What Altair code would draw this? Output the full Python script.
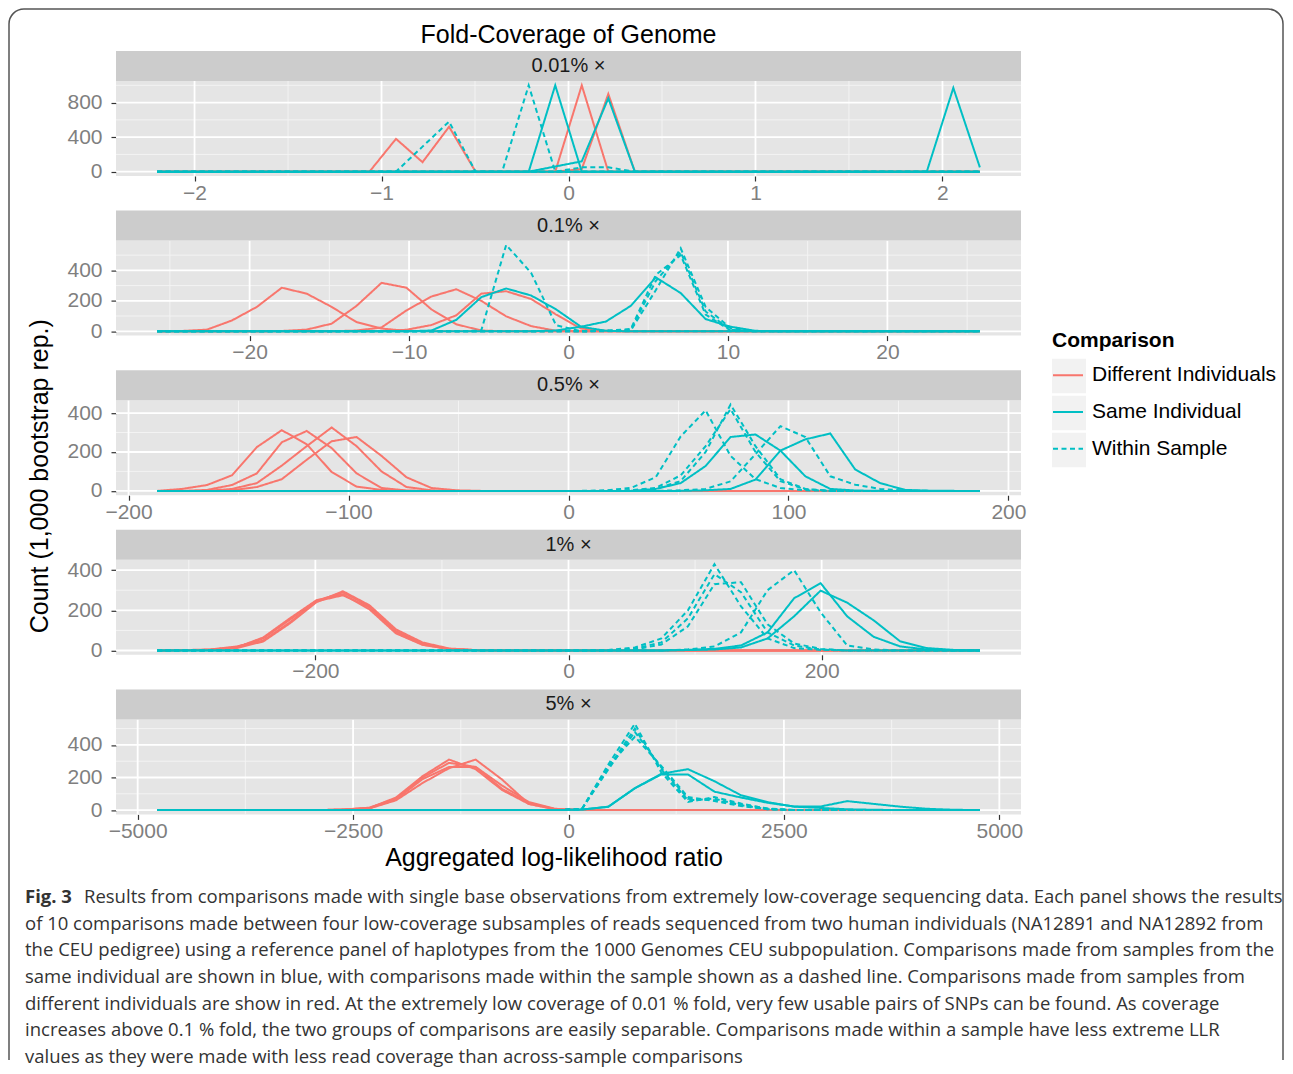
import altair as alt
import numpy as np
import pandas as pd

DIFF, SAME, WITHIN = "Different Individuals", "Same Individual", "Within Sample"

PANEL_LABELS = ["0.01% ×", "0.1% ×", "0.5% ×", "1% ×", "5% ×"]
HALF_RANGE = [2.2, 25.8, 187.0, 325.0, 4774.0]
N_POINTS = [32, 34, 34, 32, 32]
X_MAJOR = [[-2, -1, 0, 1, 2], [-20, -10, 0, 10, 20], [-200, -100, 0, 100, 200],
           [-200, 0, 200], [-5000, -2500, 0, 2500, 5000]]
X_MINOR = [[-1.5, -0.5, 0.5, 1.5], [-25, -15, -5, 5, 15, 25], [-150, -50, 50, 150],
           [-300, -100, 100, 300], [-3750, -1250, 1250, 3750]]
Y_MAJOR = [[0, 400, 800], [0, 200, 400], [0, 200, 400], [0, 200, 400], [0, 200, 400]]
Y_MINOR = [[200, 600, 1000], [100, 300, 500], [100, 300], [100, 300], [100, 300, 500]]

# (comparison, first non-zero bin index, counts)
P1 = [
    (DIFF, 9, [380, 110, 520]),
    (DIFF, 16, [1000]),
    (DIFF, 16, [30, 900]),
    (DIFF, 0, []),
    (SAME, 15, [1000]),
    (SAME, 15, [60, 120, 850]),
    (SAME, 30, [970, 50]),
    (WITHIN, 10, [290, 580]),
    (WITHIN, 14, [1000]),
    (WITHIN, 16, [50, 50]),
    (WITHIN, 0, []),
]
P2 = [
    (DIFF, 1, [2, 11, 71, 160, 286, 247, 160, 60, 18, 3]),
    (DIFF, 5, [2, 11, 50, 167, 318, 286, 144, 46, 5]),
    (DIFF, 8, [5, 25, 137, 228, 276, 200, 98, 34, 3]),
    (DIFF, 10, [10, 41, 105, 247, 263, 212, 110, 18, 3]),
    (SAME, 11, [5, 75, 224, 281, 235, 144, 30, 3]),
    (SAME, 16, [5, 30, 64, 167, 354, 251, 80, 30, 3]),
    (WITHIN, 13, [5, 567, 384, 40]),
    (WITHIN, 18, [3, 5, 270, 545, 160, 20]),
    (WITHIN, 18, [2, 10, 330, 520, 130, 10]),
    (WITHIN, 18, [4, 15, 370, 500, 110, 5]),
]
P3 = [
    (DIFF, 1, [10, 30, 80, 225, 312, 240, 97, 22, 5]),
    (DIFF, 2, [5, 30, 90, 250, 308, 220, 90, 15, 2]),
    (DIFF, 3, [10, 40, 130, 230, 326, 230, 100, 20, 3]),
    (DIFF, 3, [3, 20, 60, 160, 255, 277, 180, 70, 15, 3]),
    (SAME, 20, [10, 40, 128, 277, 290, 207, 75, 10, 2]),
    (SAME, 22, [3, 10, 58, 207, 265, 295, 110, 40, 5, 1]),
    (WITHIN, 18, [3, 15, 70, 280, 414, 180, 60, 15, 3]),
    (WITHIN, 19, [3, 10, 50, 200, 444, 230, 60, 10]),
    (WITHIN, 19, [3, 15, 80, 230, 420, 200, 50, 8]),
    (WITHIN, 21, [3, 10, 49, 189, 333, 277, 75, 32, 10, 2]),
]
P4 = [
    (DIFF, 1, [2, 3, 17, 60, 153, 247, 289, 221, 97, 34, 8, 2]),
    (DIFF, 1, [2, 5, 20, 50, 140, 245, 275, 215, 90, 30, 6, 1]),
    (DIFF, 1, [1, 4, 15, 65, 160, 250, 280, 205, 85, 28, 8, 1]),
    (DIFF, 1, [2, 3, 12, 45, 135, 240, 295, 225, 105, 40, 10, 2]),
    (SAME, 20, [3, 8, 25, 90, 260, 335, 170, 68, 20, 5]),
    (SAME, 20, [2, 5, 15, 60, 170, 298, 238, 150, 45, 12, 3]),
    (WITHIN, 17, [3, 15, 60, 200, 430, 220, 60, 12, 3]),
    (WITHIN, 18, [10, 40, 160, 380, 290, 90, 25, 5]),
    (WITHIN, 18, [5, 30, 120, 330, 340, 130, 35, 8]),
    (WITHIN, 20, [5, 20, 90, 300, 400, 190, 25, 5]),
]
P5 = [
    (DIFF, 7, [3, 13, 77, 208, 310, 251, 123, 38, 6]),
    (DIFF, 7, [2, 10, 60, 166, 257, 310, 187, 38, 5]),
    (DIFF, 7, [3, 15, 70, 200, 290, 265, 130, 45, 5]),
    (DIFF, 7, [2, 12, 65, 190, 265, 265, 150, 50, 8]),
    (SAME, 16, [3, 21, 134, 223, 251, 177, 91, 49, 21, 13, 5, 2]),
    (SAME, 16, [3, 20, 134, 219, 219, 113, 77, 45, 22, 22, 55, 38, 21, 8, 2]),
    (WITHIN, 16, [5, 280, 530, 230, 50, 80, 40, 8]),
    (WITHIN, 16, [5, 260, 500, 250, 60, 70, 30, 5]),
    (WITHIN, 16, [5, 250, 480, 260, 70, 60, 35, 10]),
    (WITHIN, 16, [5, 270, 450, 270, 80, 55, 25, 5]),
]
SERIES = [P1, P2, P3, P4, P5]

TITLE = "Fold-Coverage of Genome"
X_TITLE = "Aggregated log-likelihood ratio"
Y_TITLE = "Count (1,000 bootstrap rep.)"
CAPTION_BOLD = "Fig. 3"
CAPTION_FIRST = ("Results from comparisons made with single base observations from extremely "
                 "low-coverage sequencing data. Each panel shows the results")
CAPTION_REST = [
    "of 10 comparisons made between four low-coverage subsamples of reads sequenced from two human individuals (NA12891 and NA12892 from",
    "the CEU pedigree) using a reference panel of haplotypes from the 1000 Genomes CEU subpopulation. Comparisons made from samples from the",
    "same individual are shown in blue, with comparisons made within the sample shown as a dashed line. Comparisons made from samples from",
    "different individuals are show in red. At the extremely low coverage of 0.01 % fold, very few usable pairs of SNPs can be found. As coverage",
    "increases above 0.1 % fold, the two groups of comparisons are easily separable. Comparisons made within a sample have less extreme LLR",
    "values as they were made with less read coverage than across-sample comparisons",
]

W, H = 905, 95
FONT = "Liberation Sans"
CAP_FONT = "Open Sans"
CAP_SIZE = 18.5
ONE = pd.DataFrame({"a": [0]})

COLOR_SCALE = alt.Scale(domain=[DIFF, SAME, WITHIN], range=["#F8766D", "#00BFC4", "#00BFC4"])
DASH_SCALE = alt.Scale(domain=[DIFF, SAME, WITHIN], range=[[1, 0], [1, 0], [5, 3.5]])
LEGEND = alt.Legend(
    title="Comparison", orient="none", legendX=936, legendY=248.5, direction="vertical",
    padding=0, titleFontSize=21, titleFontWeight="bold", titleColor="black", titleFont=FONT,
    titlePadding=8.7, labelFontSize=21, labelFont=FONT, labelColor="black", labelOffset=8,
    labelLimit=400, symbolType="stroke", symbolSize=900, symbolStrokeWidth=2, rowPadding=10.8,
)


def fixed_rect(x1, x2, y1, y2, color):
    return alt.Chart(ONE).mark_rect(color=color).encode(
        x=alt.value(x1), x2=alt.value(x2), y=alt.value(y1), y2=alt.value(y2))


def panel(i):
    R = HALF_RANGE[i]
    n = N_POINTS[i]
    xs = np.linspace(-R, R, n)
    rows = []
    for sid, (comp, start, vals) in enumerate(SERIES[i]):
        counts = np.zeros(n)
        counts[start:start + len(vals)] = vals
        for x, c in zip(xs, counts):
            rows.append({"x": float(x), "count": float(c), "comparison": comp, "series": f"s{sid}"})
    df = pd.DataFrame(rows)
    ymax = df["count"].max()
    xaxis = alt.Axis(values=X_MAJOR[i], title=None, format="d", grid=False, domain=False,
                     tickColor="#333333", tickSize=5, tickWidth=1.2, labelColor="#7F7F7F",
                     labelFontSize=21, labelFont=FONT, labelPadding=1, labelFlush=False,
                     labelOverlap=False, labelBound=False)
    yaxis = alt.Axis(values=Y_MAJOR[i], title=None, format="d", grid=False, domain=False,
                     tickColor="#333333", tickSize=5, tickWidth=1.2, labelColor="#7F7F7F",
                     labelFontSize=21, labelFont=FONT, labelPadding=9, labelFlush=False,
                     labelOverlap=False, labelBound=False)
    X = alt.X("x:Q", scale=alt.Scale(domain=[-1.1 * R, 1.1 * R], nice=False, zero=False), axis=xaxis)
    Y = alt.Y("count:Q", scale=alt.Scale(domain=[-0.05 * ymax, 1.05 * ymax], nice=False, zero=False),
              axis=yaxis)

    layers = [
        alt.Chart(pd.DataFrame({"x": X_MINOR[i]})).mark_rule(color="#F3F3F3", strokeWidth=1).encode(x=X),
        alt.Chart(pd.DataFrame({"count": Y_MINOR[i]})).mark_rule(color="#F3F3F3", strokeWidth=1).encode(y=Y),
        alt.Chart(pd.DataFrame({"x": X_MAJOR[i]})).mark_rule(color="white", strokeWidth=1.8).encode(x=X),
        alt.Chart(pd.DataFrame({"count": Y_MAJOR[i]})).mark_rule(color="white", strokeWidth=1.8).encode(y=Y),
        alt.Chart(df).mark_line(strokeWidth=2).encode(
            x=X, y=Y,
            color=alt.Color("comparison:N", scale=COLOR_SCALE, legend=LEGEND),
            strokeDash=alt.StrokeDash("comparison:N", scale=DASH_SCALE, legend=LEGEND),
            detail="series:N",
        ),
        fixed_rect(0, W, -30, 0, "#CCCCCC"),
        alt.Chart(ONE).mark_text(fontSize=20, font=FONT, color="#1A1A1A", baseline="middle",
                                 align="center").encode(
            x=alt.value(W / 2), y=alt.value(-15), text=alt.value(PANEL_LABELS[i])),
    ]
    if i == 0:
        L, T, Rr, B, r = -107, -72, 1167, 979, 15
        bc = "#555555"
        layers += [
            alt.Chart(ONE).mark_text(fontSize=25, font=FONT, color="black", baseline="middle",
                                     align="center").encode(
                x=alt.value(W / 2), y=alt.value(-46), text=alt.value(TITLE)),
            alt.Chart(ONE).mark_rule(color=bc, strokeWidth=1.5).encode(
                x=alt.value(L + r), x2=alt.value(Rr - r), y=alt.value(T)),
            alt.Chart(ONE).mark_rule(color=bc, strokeWidth=1.5).encode(
                x=alt.value(L), y=alt.value(T + r), y2=alt.value(B)),
            alt.Chart(ONE).mark_rule(color=bc, strokeWidth=1.5).encode(
                x=alt.value(Rr), y=alt.value(T + r), y2=alt.value(B)),
            alt.Chart(ONE).mark_arc(color=bc, radius=r + 0.75, radius2=r - 0.75,
                                    theta=4.7124, theta2=6.2832).encode(
                x=alt.value(L + r), y=alt.value(T + r)),
            alt.Chart(ONE).mark_arc(color=bc, radius=r + 0.75, radius2=r - 0.75,
                                    theta=0, theta2=1.5708).encode(
                x=alt.value(Rr - r), y=alt.value(T + r)),
        ]
    if i == 1:
        # grey legend key backgrounds (page y centres 376, 413, 450)
        for cy in (135.4, 172.4, 209.4):
            layers.insert(0, fixed_rect(936, 970, cy - 17.2, cy + 17.2, "#F2F2F2"))
    if i == 2:
        layers.append(
            alt.Chart(ONE).mark_text(fontSize=25, font=FONT, color="black", angle=270,
                                     baseline="middle", align="center").encode(
                x=alt.value(-76), y=alt.value(76), text=alt.value(Y_TITLE)))
    if i == 4:
        layers += [
            alt.Chart(ONE).mark_text(fontSize=25, font=FONT, color="black", baseline="middle",
                                     align="center").encode(
                x=alt.value(438), y=alt.value(139), text=alt.value(X_TITLE)),
            alt.Chart(ONE).mark_text(fontSize=CAP_SIZE, font=CAP_FONT, fontWeight="bold", color="#333333",
                                     baseline="top", align="left").encode(
                x=alt.value(-91), y=alt.value(168.5), text=alt.value(CAPTION_BOLD)),
            alt.Chart(ONE).mark_text(fontSize=CAP_SIZE, font=CAP_FONT, color="#333333",
                                     baseline="top", align="left").encode(
                x=alt.value(-32), y=alt.value(168.5), text=alt.value(CAPTION_FIRST)),
            alt.Chart(ONE).mark_text(fontSize=CAP_SIZE, font=CAP_FONT, color="#333333",
                                     baseline="top", align="left", lineHeight=26.67).encode(
                x=alt.value(-91), y=alt.value(195.2), text=alt.value(CAPTION_REST)),
        ]
    return alt.layer(*layers).properties(width=W, height=H)


chart = (
    alt.vconcat(*[panel(i) for i in range(5)], spacing=64.6, bounds="flush")
    .resolve_scale(x="independent", y="independent")
    .properties(padding={"left": 0, "top": 0, "right": 0, "bottom": 0})
    .configure(font=FONT)
    .configure_view(fill="#E5E5E5", strokeWidth=0)
)

chart.save("out.html", embed_options={"renderer": "svg", "actions": False})
